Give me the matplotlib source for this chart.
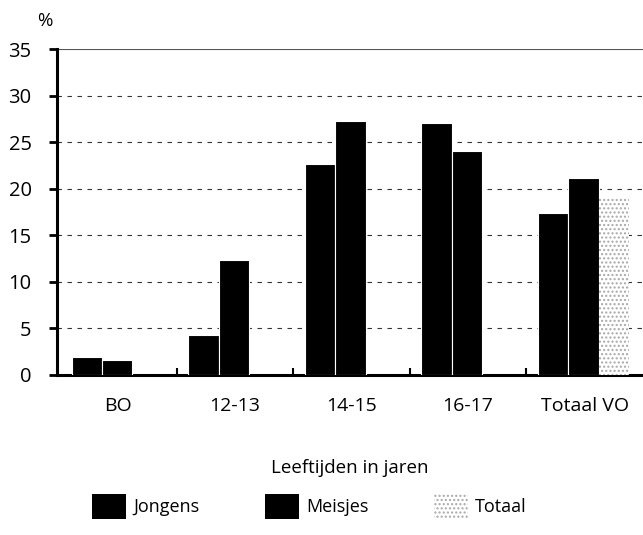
import matplotlib.pyplot as plt
import numpy as np
from matplotlib.patches import Patch

plt.rcParams['font.family'] = ['Open Sans', 'DejaVu Sans']

categories = ['BO', '12-13', '14-15', '16-17', 'Totaal VO']
jongens = [1.9, 4.2, 22.6, 27.1, 17.4]
meisjes = [1.6, 12.3, 27.3, 24.1, 21.1]
totaal = [np.nan, np.nan, np.nan, np.nan, 19.0]
series_names = ['Jongens', 'Meisjes', 'Totaal']
yticks = [0, 5, 10, 15, 20, 25, 30, 35]

fig = plt.figure(figsize=(6.43, 5.35), dpi=100)
ax = fig.add_axes([0.088, 0.3, 0.912, 0.608])

x = np.arange(len(categories))
w = 0.26
ax.bar(x - w - 0.01, jongens, w, color='black', edgecolor='white',
       linewidth=0.8, zorder=3)
ax.bar(x - 0.01, meisjes, w, color='black', edgecolor='white',
       linewidth=0.8, zorder=3)
ax.bar(x + w - 0.01, totaal, w, facecolor='white', edgecolor='#a8a8a8',
       hatch='....', linewidth=0, zorder=3)

# grid
for yv in yticks[1:-1]:
    ax.axhline(yv, color='#333333', linestyle=(0, (4, 5)), linewidth=0.8, zorder=1)
ax.axhline(35, color='#555555', linewidth=0.8, zorder=1)

ax.set_xlim(-0.53, 4.5)
ax.set_ylim(0, 35)
ax.set_yticks(yticks)
ax.set_yticklabels([str(v) for v in yticks], fontsize=14.5)
ax.set_xticks(x)
ax.set_xticklabels(categories, fontsize=14)
ax.set_xticks(x[:-1] + 0.5, minor=True)
ax.tick_params(axis='x', which='major', length=0, pad=16)
ax.tick_params(axis='x', which='minor', direction='in', length=5, width=1.5)
ax.tick_params(axis='y', direction='out', length=6, width=2, pad=12)

for side in ('top', 'right'):
    ax.spines[side].set_visible(False)
ax.spines['left'].set_linewidth(2.2)
ax.spines['bottom'].set_linewidth(2.2)

ax.set_xlabel('Leeftijden in jaren', fontsize=13.5, labelpad=32)
fig.text(0.058, 0.96, '%', fontsize=13.5, ha='left', va='center')

# legend
handles = [Patch(facecolor='black'), Patch(facecolor='black'),
           Patch(facecolor='white', edgecolor='#a8a8a8', hatch='....', linewidth=0)]
fig.legend(handles, series_names, loc='lower left', bbox_to_anchor=(0.118, 0.0),
           ncol=3, frameon=False, fontsize=13, handlelength=1.9, handleheight=1.7,
           columnspacing=3.6, handletextpad=0.4)

fig.savefig('out.png', dpi=100)
